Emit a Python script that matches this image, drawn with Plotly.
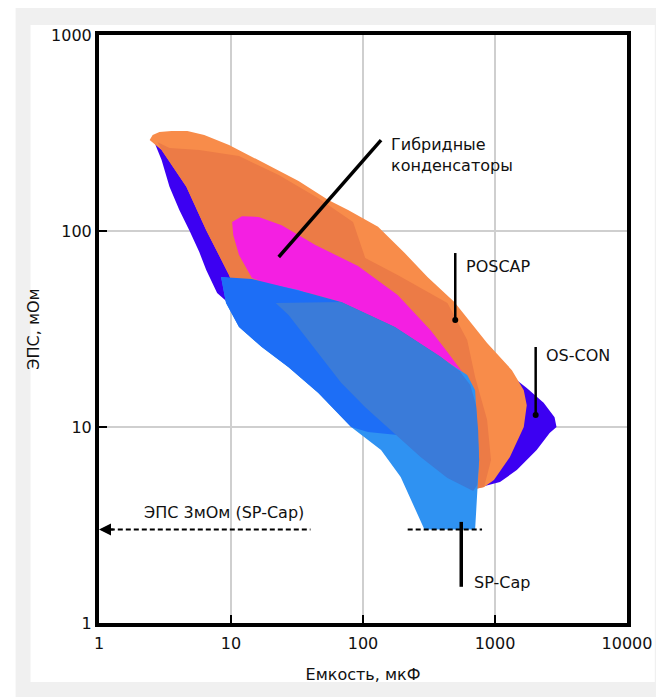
import plotly.graph_objects as go

# ---- data (capacitance, uF ; ESR, mOhm) ----
oscon_c = [2.55, 2.98, 3.42, 4.06, 4.83, 5.75, 6.49, 7.85, 9.01, 11.5, 38.6, 183, 732, 1091, 1463, 2069, 2594, 2924, 2826, 2336, 1740, 671, 32.5, 5.75, 2.87]
oscon_esr = [298, 230, 168, 128, 101, 78.1, 63.2, 48.3, 44.5, 37.3, 20.7, 8.59, 4.88, 5.24, 6.03, 7.63, 9.32, 10.0, 11.2, 13.3, 15.8, 26.2, 144, 291, 316]

poscap_c = [2.42, 2.55, 2.87, 3.54, 4.67, 6.27, 9.66, 16.2, 32.5, 54.6, 77.1, 130, 207, 308, 492, 871, 1343, 1652, 1740, 1652, 1297, 982, 827, 707, 616, 183, 11.5, 9.66, 6.49, 4.59, 2.98]
poscap_esr = [291, 309, 320, 324, 324, 309, 275, 230, 180, 144, 128, 105, 77.2, 58.2, 43.4, 26.8, 19.5, 15.4, 12.9, 10.0, 7.03, 5.37, 4.94, 4.83, 6.03, 10.9, 44.5, 59.7, 101, 168, 259]

poscap_core_c = [2.78, 3.42, 5.75, 11.5, 23.0, 45.9, 84.1, 104, 183, 436, 616, 707, 871, 933, 827, 707, 616, 183, 11.5, 9.66, 6.49, 4.59, 2.98]
poscap_core_esr = [284, 265, 259, 241, 193, 147, 111, 72.8, 59.7, 42.9, 27.8, 18.0, 10.9, 6.79, 4.94, 4.83, 6.03, 10.9, 44.5, 59.7, 101, 168, 259]

hybrid_c = [10.2, 12.1, 16.2, 24.2, 43.6, 91.7, 183, 325, 436, 565, 386, 174, 68.3, 38.6, 18.3, 14.4, 11.5, 10.4]
hybrid_esr = [111, 119, 118, 107, 84.8, 66.3, 47.1, 31.2, 24.1, 19.1, 22.8, 32.4, 43.4, 48.3, 54.3, 57.6, 75.4, 95.4]

spcap_c = [8.41, 9.17, 11.5, 17.1, 27.3, 45.9, 81.3, 137, 193, 259, 292, 707, 732, 758, 707, 616, 183, 32.5, 13.7]
spcap_esr = [58.2, 42.9, 32.4, 25.6, 20.2, 14.9, 10.0, 7.63, 5.56, 3.56, 3.0, 3.0, 4.24, 6.79, 15.4, 18.4, 31.2, 50.0, 56.2]

spcap_low_c = [8.41, 14.4, 38.6, 68.3, 174, 386, 546, 366, 183, 109, 81.3, 45.9, 27.3, 17.1, 11.5, 9.17]
spcap_low_esr = [58.2, 56.9, 48.3, 43.4, 32.4, 22.8, 19.1, 10.9, 9.10, 9.43, 10.0, 14.9, 20.2, 25.6, 32.4, 42.9]

spcap_high_c = [21.8, 68.3, 174, 386, 546, 649, 719, 745, 758, 732, 684, 436, 273, 154, 104, 68.3, 38.6, 27.3]
spcap_high_esr = [42.9, 43.4, 32.4, 22.8, 19.1, 16.4, 12.9, 9.65, 6.79, 5.06, 4.71, 5.49, 7.03, 10.0, 12.6, 16.8, 27.8, 37.3]

esr_line_c = [1.05, 40]
esr_line_c2 = [218, 798]
esr_line_esr = [3, 3]

hybrid_ptr_c = [137, 23.0]
hybrid_ptr_esr = [291, 73.7]
poscap_ptr_c = [500, 500]
poscap_ptr_esr = [77.2, 35.2]
oscon_ptr_c = [2033, 2033]
oscon_ptr_esr = [25.6, 11.5]
spcap_ptr_c = [555, 555]
spcap_ptr_esr = [3.28, 1.53]

tick_vals_x = [1, 10, 100, 1000, 10000]
tick_text_x = ["1", "10", "100", "1000", "10000"]
tick_vals_y = [1, 10, 100, 1000]
tick_text_y = ["1", "10", "100", "1000"]

FONT = "DejaVu Sans"

fig = go.Figure()

def region(xs, ys, color):
    fig.add_trace(go.Scatter(x=xs, y=ys, mode="lines", fill="toself",
                             fillcolor=color, line=dict(width=0, color=color),
                             hoverinfo="skip", showlegend=False))

region(oscon_c, oscon_esr, "#3c00f2")
region(poscap_c, poscap_esr, "#f88c4a")
region(poscap_core_c, poscap_core_esr, "#ec7b46")
region(hybrid_c, hybrid_esr, "#f41fe2")
region(spcap_c, spcap_esr, "#2f92f2")
region(spcap_low_c, spcap_low_esr, "#1d6ef6")
region(spcap_high_c, spcap_high_esr, "#3a7bd9")

def seg(xs, ys, dash=None, width=3.5):
    fig.add_trace(go.Scatter(x=xs, y=ys, mode="lines",
                             line=dict(color="black", width=width, dash=dash),
                             hoverinfo="skip", showlegend=False))

seg(esr_line_c, esr_line_esr, dash="5px,3px", width=2)
seg(esr_line_c2, esr_line_esr, dash="5px,3px", width=2)
seg(hybrid_ptr_c, hybrid_ptr_esr)
seg(poscap_ptr_c, poscap_ptr_esr, width=2.5)
seg(oscon_ptr_c, oscon_ptr_esr, width=2.5)
seg(spcap_ptr_c, spcap_ptr_esr, width=3.5)

# pointer end dots
fig.add_trace(go.Scatter(x=[poscap_ptr_c[1], oscon_ptr_c[1]],
                         y=[poscap_ptr_esr[1], oscon_ptr_esr[1]],
                         mode="markers", marker=dict(color="black", size=6),
                         hoverinfo="skip", showlegend=False))

tf = dict(family=FONT, size=16, color="#111111")
ann = [
    dict(x=2.195, y=2.388, text="Гибридные<br>конденсаторы", xanchor="left", yanchor="middle", align="left"),
    dict(x=2.767, y=1.821, text="POSCAP", xanchor="left", yanchor="middle"),
    dict(x=3.368, y=1.367, text="OS-CON", xanchor="left", yanchor="middle"),
    dict(x=2.827, y=0.209, text="SP-Cap", xanchor="left", yanchor="middle"),
    dict(x=0.944, y=0.566, text="ЭПС 3мОм (SP-Cap)", xanchor="center", yanchor="middle"),
]
annotations = []
for a in ann:
    a.update(showarrow=False, font=tf, xref="x", yref="y")
    annotations.append(a)
# arrowhead at left end of dashed line
annotations.append(dict(x=0, y=0.477, xref="x", yref="y", ax=16, ay=0, text="",
                        showarrow=True, arrowhead=2, arrowsize=1.2, arrowwidth=2,
                        arrowcolor="black"))

shapes = [
    dict(type="rect", xref="paper", yref="paper", x0=-0.1579, x1=1.1, y0=-0.2, y1=1.1,
         fillcolor="#f0f0f0", line=dict(width=0), layer="below"),
    dict(type="rect", xref="paper", yref="paper", x0=-0.1297, x1=1.0526, y0=-0.1003, y1=1.017,
         fillcolor="white", line=dict(width=0), layer="below"),
]

axis_common = dict(type="log", showline=True, mirror=True, linecolor="black", linewidth=4,
                   showgrid=True, gridcolor="#cfcfcf", gridwidth=2, zeroline=False,
                   ticks="inside", ticklen=8, tickwidth=2, tickcolor="black",
                   tickfont=dict(family=FONT, size=16, color="#111111"))

# the page body adds an 8px offset, so the figure is 8px smaller and margins compensate
fig.update_layout(
    width=656, height=689,
    margin=dict(l=91, r=33, t=27, b=74),
    paper_bgcolor="white", plot_bgcolor="rgba(0,0,0,0)",
    showlegend=False,
    annotations=annotations,
    shapes=shapes,
    xaxis=dict(range=[0, 4], tickvals=tick_vals_x, ticktext=tick_text_x, ticklabelstandoff=3,
               title=dict(text="Емкость, мкФ", font=dict(family=FONT, size=16, color="#111111"), standoff=18),
               **axis_common),
    yaxis=dict(range=[0, 3], tickvals=tick_vals_y, ticktext=tick_text_y,
               title=dict(text="ЭПС, мОм", font=dict(family=FONT, size=16, color="#111111"), standoff=8),
               **axis_common),
)

fig.write_html("out.html")
